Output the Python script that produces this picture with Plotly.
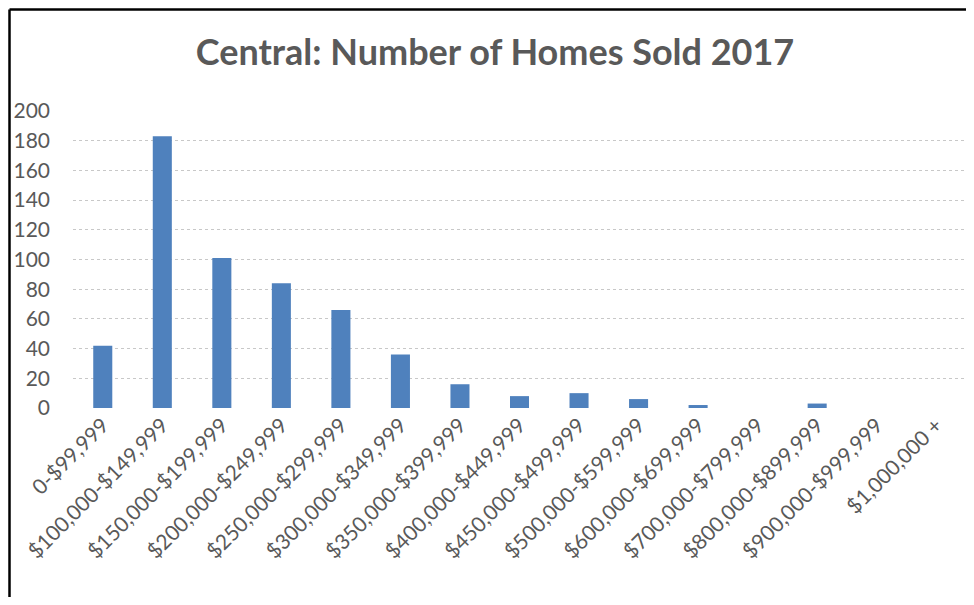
import plotly.graph_objects as go

categories = ["0-$99,999", "$100,000-$149,999", "$150,000-$199,999", "$200,000-$249,999",
              "$250,000-$299,999", "$300,000-$349,999", "$350,000-$399,999", "$400,000-$449,999",
              "$450,000-$499,999", "$500,000-$599,999", "$600,000-$699,999", "$700,000-$799,999",
              "$800,000-$899,999", "$900,000-$999,999", "$1,000,000 +"]
homes_sold = [42, 183, 101, 84, 66, 36, 16, 8, 10, 6, 2, 0, 3, 0, 0]
y_ticks = [0, 20, 40, 60, 80, 100, 120, 140, 160, 180, 200]

# page body has an 8px margin; figure sized to fit inside the window
W, H = 958, 589
ml, mr, mt, mb = 65, 0, 103, 189
pw = W - ml - mr
ph = H - mt - mb

fig = go.Figure(go.Bar(x=categories, y=homes_sold, marker=dict(color="#4f81bd", line=dict(width=0))))

font = "Lato, 'Open Sans', sans-serif"
fig.update_layout(
    width=W, height=H,
    margin=dict(l=ml, r=mr, t=mt, b=mb, autoexpand=False),
    paper_bgcolor="white", plot_bgcolor="white",
    bargap=0.68,
    showlegend=False,
    font=dict(family=font, color="#595959", size=21),
    title=dict(text="<b>Central: Number of Homes Sold 2017</b>", x=487 / W, xanchor="center",
               y=1 - 44 / H, yanchor="middle", yref="container",
               font=dict(family=font, size=36, color="#595959")),
    xaxis=dict(tickangle=-45, showgrid=False, showline=False, ticks="",
               tickfont=dict(size=21, color="#595959"), automargin=False),
    yaxis=dict(range=[0, 200], tickvals=y_ticks, showgrid=True, gridcolor="#c8c8c8",
               griddash="dot", gridwidth=1, zeroline=False, showline=False, ticks="",
               ticklabelstandoff=22, tickfont=dict(size=21, color="#595959"), automargin=False),
)

# outer frame (top and left edges of the picture)
x_left = (1.5 - ml) / pw
y_top = (H - mb - 1.5) / ph
fig.add_shape(type="line", xref="paper", yref="paper", x0=x_left, x1=(W + 5 - ml) / pw,
              y0=y_top, y1=y_top, line=dict(color="black", width=2.5))
fig.add_shape(type="line", xref="paper", yref="paper", x0=x_left, x1=x_left,
              y0=y_top, y1=-(mb + 5) / ph, line=dict(color="black", width=2.5))

fig.write_html("out.html")
